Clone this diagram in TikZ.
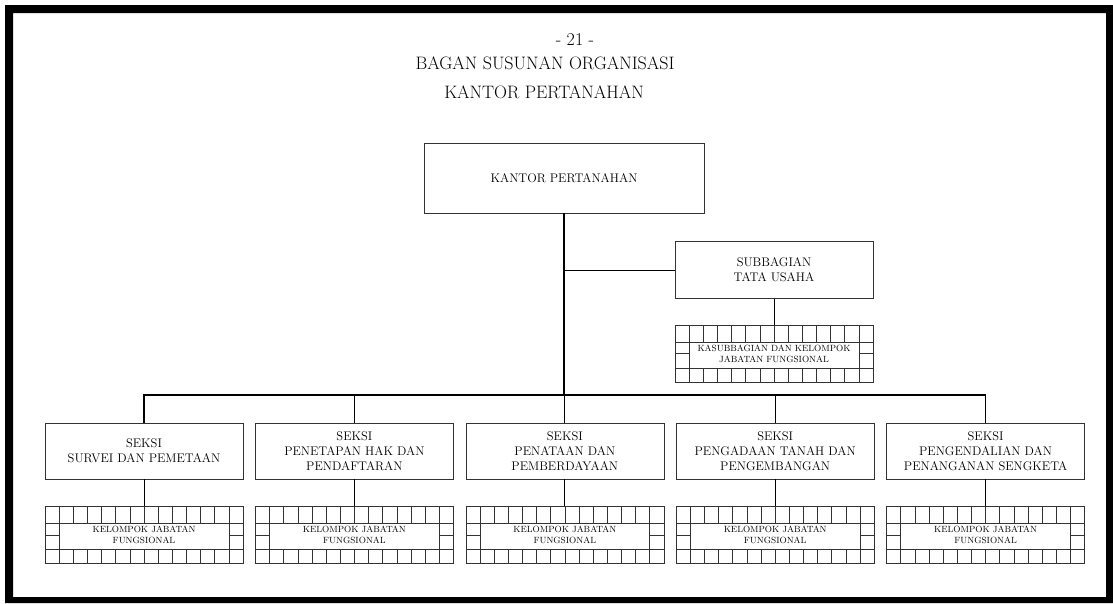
\documentclass[tikz,border=0pt]{standalone}
\usepackage{xcolor}
\usepackage{tikz}
\usetikzlibrary{positioning, calc}
\tikzstyle{block} = [rectangle, draw=black!80, minimum width=198pt, minimum height=56pt, text centered, align=center, font=\fontsize{12.5}{15}\selectfont]
\tikzstyle{topblock} = [block, minimum width=280pt, minimum height=70pt]
\tikzstyle{gridblock} = [rectangle, draw=black!80, minimum width=198pt, minimum height=57pt, text centered, align=center, font=\fontsize{9}{11}\selectfont,
  path picture={
    \draw [black!80, line width=0.6pt]
      ($(path picture bounding box.north west)+(0,17)$) -- ($(path picture bounding box.north east)+(0,17)$)
      ($(path picture bounding box.south west)+(0,-14)$) -- ($(path picture bounding box.south east)+(0,-14)$)
      ($(path picture bounding box.north west)+(14.1,17)$) -- ($(path picture bounding box.south west)+(14.1,-14)$)
      ($(path picture bounding box.north east)+(-14.1,17)$) -- ($(path picture bounding box.south east)+(-14.1,-14)$)
      (path picture bounding box.west) -- +(14.1,0)
      (path picture bounding box.east) -- +(-14.1,0);
    \foreach \i in {1,...,13} {
      \draw [black!80, line width=0.6pt]
        ($(path picture bounding box.north west)!\i/14!(path picture bounding box.north east)$) -- +(0,17)
        ($(path picture bounding box.south west)!\i/14!(path picture bounding box.south east)$) -- +(0,-14);
    }
  }]
\tikzstyle{heading} = [font=\fontsize{18}{21}\selectfont]
\tikzstyle{line} = [draw, line width=0.9pt]
\tikzstyle{trunk} = [draw, line width=1.8pt]
\tikzstyle{bus} = [draw, line width=1.4pt]

\begin{document}
\begin{tikzpicture}[x=1pt, y=-1pt, node distance=27pt]
        \useasboundingbox (0,0) rectangle (1113,603);
        \fill [black, even odd rule] (5,5) rectangle (1113,603) (13,13) rectangle (1106,597);

        % Labels
        \node [heading] (page) at (575,40) {- 21 -};
        \node [heading] (bagan) at (545,63) {BAGAN SUSUNAN ORGANISASI};
        \node [heading] (kantortitle) at (544,92) {KANTOR PERTANAHAN};

        % Nodes
        \node [topblock] (kantor) at (564,178) {KANTOR PERTANAHAN};
        \node [block, minimum height=57pt] (subbag) at (774,270) {SUBBAGIAN\\TATA USAHA};
        \node [gridblock, below=26pt of subbag] (subbaggrid) {KASUBBAGIAN DAN KELOMPOK\\JABATAN FUNGSIONAL};

        \node [block] (survei) at (144,451) {SEKSI\\SURVEI DAN PEMETAAN};
        \node [block, right=12pt of survei] (penetapan) {SEKSI\\PENETAPAN HAK DAN\\PENDAFTARAN};
        \node [block, right=12pt of penetapan] (penataan) {SEKSI\\PENATAAN DAN\\PEMBERDAYAAN};
        \node [block, right=12pt of penataan] (pengadaan) {SEKSI\\PENGADAAN TANAH DAN\\PENGEMBANGAN};
        \node [block, right=12pt of pengadaan] (sengketa) {SEKSI\\PENGENDALIAN DAN\\PENANGANAN SENGKETA};

        \node [gridblock, below=of survei] (surveigrid) {KELOMPOK JABATAN\\FUNGSIONAL};
        \node [gridblock, below=of penetapan] (penetapangrid) {KELOMPOK JABATAN\\FUNGSIONAL};
        \node [gridblock, below=of penataan] (penataangrid) {KELOMPOK JABATAN\\FUNGSIONAL};
        \node [gridblock, below=of pengadaan] (pengadaangrid) {KELOMPOK JABATAN\\FUNGSIONAL};
        \node [gridblock, below=of sengketa] (sengketagrid) {KELOMPOK JABATAN\\FUNGSIONAL};
        \coordinate (hub) at (564,395);

        % Paths
        \draw [trunk] (kantor.south) -- (hub);
        \draw [line] (kantor.south |- subbag.west) -- (subbag.west);
        \draw [line] (subbag) -- (subbaggrid);
        \draw [bus] (survei.north) |- (hub) -| (sengketa.north);
        \draw [line] (penetapan.north) -- (penetapan.north |- hub);
        \draw [line] (penataan.north) -- (penataan.north |- hub);
        \draw [line] (pengadaan.north) -- (pengadaan.north |- hub);
        \draw [line] (survei) -- (surveigrid);
        \draw [line] (penetapan) -- (penetapangrid);
        \draw [line] (penataan) -- (penataangrid);
        \draw [line] (pengadaan) -- (pengadaangrid);
        \draw [line] (sengketa) -- (sengketagrid);
\end{tikzpicture}
\end{document}
